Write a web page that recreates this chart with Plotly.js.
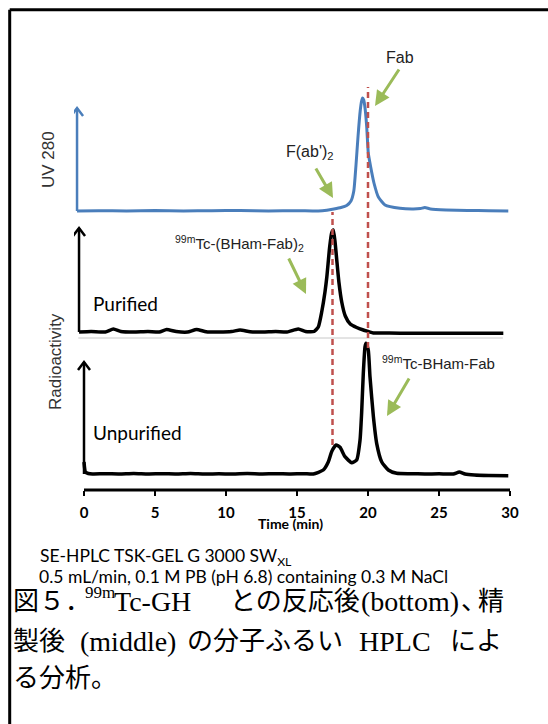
<!DOCTYPE html>
<html><head><meta charset="utf-8">
<script src="https://cdn.plot.ly/plotly-3.0.1.min.js"></script>
<style>html,body{margin:0;padding:0;background:#fff;}#chart{width:548px;height:724px;}</style>
</head><body><div id="chart"></div>
<script>
// ---- data (time in min, signal in arbitrary units) ----
const uvTime = [-0.49, 1, 3, 5, 7, 9, 11, 13, 15, 16.5, 17.1, 17.6, 18.1, 18.5, 18.8, 19.0, 19.15, 19.3, 19.45, 19.55, 19.62, 19.7, 19.8, 19.91, 20.02, 20.19, 20.42, 20.73, 21.2, 22.25, 23.2, 23.7, 24.0, 24.4, 25.5, 27, 28.5, 29.88];
const uvSignal = [0, 0.3, 0, 0.4, 0, 0.3, 0.5, 0, 0.3, 0, 0.8, 2.0, 3.5, 5.5, 10, 20, 45, 75, 100, 110, 113, 111, 102, 84, 58, 44, 28, 14, 6, 2.7, 2, 2.5, 3.5, 2, 1, 0.5, 0.3, 0];

const purTime = [-0.35, 0.5, 1.5, 2.07, 2.6, 3.5, 4.5, 5.3, 5.82, 6.5, 7.3, 7.93, 8.6, 9.5, 10.4, 10.99, 11.7, 12.6, 13.5, 14.3, 15.09, 15.6, 16.2, 16.5, 16.74, 16.97, 17.1, 17.3, 17.44, 17.56, 17.68, 17.8, 17.95, 18.15, 18.4, 18.75, 19.2, 19.67, 20.02, 20.38, 21.5, 23, 25, 27, 29.53];
const purSignal = [0, 0.5, 0, 3, 0.5, 0, 0.5, 0, 2.5, 0.5, 0, 2.5, 0.3, 0, 0.5, 2, 0.3, 0, 0.5, 0, 3, 0.5, 0.5, 5, 20, 40, 55, 85, 99, 102, 90, 72, 50, 30, 16, 8, 4.5, 2, 0.5, -1, -1, -1.3, -1.3, -1.3, -1.3];

const unpTime = [0, 0.1, 0.3, 0.6, 1.5, 2.5, 3.5, 4.5, 5.5, 6.5, 7.5, 8.5, 9.5, 10.5, 11.5, 12.5, 13.5, 14.5, 15.5, 16.15, 16.85, 17.21, 17.44, 17.75, 18.03, 18.38, 18.85, 19.2, 19.44, 19.55, 19.67, 19.79, 19.86, 20.02, 20.14, 20.38, 20.61, 20.96, 21.43, 22.02, 23, 24, 25, 26.01, 26.43, 26.83, 27.5, 28.5, 29.88];
const unpSignal = [12, 2, 0.5, 0, 0.3, 0, 0.5, 0, 0.3, 0, 0.5, 0, 0.2, 0, 0.4, 0, 0.3, 0, 0.3, 0, 4, 12.3, 22.3, 29, 26.7, 17.3, 11.3, 14, 34, 60.7, 100.7, 127.3, 130.7, 124, 97.3, 57.3, 30.7, 12.3, 4, 0.7, 0.3, 0, 0.2, 0, 2, 0, -1, -1.5, -1.7];

const xTicks = [0, 5, 10, 15, 20, 25, 30];
const xTickText = ['0', '5', '10', '15', '20', '25', '30'];
const fab2Time = 17.5;   // F(ab')2 retention
const fabTime = 20.0;    // Fab retention

// ---- geometry helpers (pixel -> paper) ----
const ML = 74, MR = 34, MT = 40, MB = 234;
const PW = 548 - ML - MR, PH = 724 - MT - MB;
const px = x => (x - ML) / PW;
const py = y => (724 - MB - y) / PH;

const sans = 'Liberation Sans, Arial, sans-serif';
const gill = 'Lato, sans-serif';
const jp = 'Liberation Serif, Noto Sans CJK JP, serif';
const green = '#9BBB59', red = '#C0504D', blue = '#4A7EBB';

const traces = [
  {x: unpTime, y: unpSignal, yaxis: 'y', mode: 'lines', line: {color: '#000', width: 3.5, shape: 'spline', smoothing: 0.5}, hoverinfo: 'skip'},
  {x: purTime, y: purSignal, yaxis: 'y2', mode: 'lines', line: {color: '#000', width: 3.5, shape: 'spline', smoothing: 0.5}, hoverinfo: 'skip'},
  {x: uvTime, y: uvSignal, yaxis: 'y3', mode: 'lines', line: {color: blue, width: 3, shape: 'spline', smoothing: 0.5}, hoverinfo: 'skip'}
];

function vArrow(xv, yref, top, color) {
  return [
    {type: 'line', xref: 'x', yref: yref, x0: xv, x1: xv, y0: 0, y1: top, line: {color: color, width: 2.5}},
    {type: 'path', xref: 'x', yref: yref, xsizemode: 'pixel', ysizemode: 'pixel', xanchor: xv, yanchor: top,
     path: 'M-6,-8 L0,0 L6,-8', line: {color: color, width: 2.5}}
  ];
}

const shapes = [
  // frame
  {type: 'line', xref: 'paper', yref: 'paper', x0: px(9.7), x1: px(548), y0: py(9.7), y1: py(9.7), line: {color: '#000', width: 3}},
  {type: 'line', xref: 'paper', yref: 'paper', x0: px(9.7), x1: px(9.7), y0: py(9.7), y1: py(724), line: {color: '#000', width: 3}},
  // separator under purified trace
  {type: 'line', xref: 'x', yref: 'paper', x0: -0.4, x1: 29.5, y0: py(338), y1: py(338), line: {color: '#c8c8c8', width: 1}, layer: 'below'},
  // x axis line
  {type: 'line', xref: 'x', yref: 'paper', x0: 0, x1: 30, y0: 0, y1: 0, line: {color: '#000', width: 3}},
  ...vArrow(-0.49, 'y3', 103, blue),
  ...vArrow(-0.35, 'y2', 104, '#000'),
  ...vArrow(0, 'y', 112, '#000'),
  // retention markers
  {type: 'line', xref: 'x', yref: 'paper', x0: fab2Time, x1: fab2Time, y0: py(445), y1: py(212), line: {color: red, width: 2.5, dash: '6px,4px'}, layer: 'above'},
  {type: 'line', xref: 'x', yref: 'paper', x0: fabTime, x1: fabTime, y0: py(348), y1: py(87), line: {color: red, width: 2.5, dash: '6px,4px'}, layer: 'above'}
];

function txt(text, x, y, font, xanchor, extra) {
  return Object.assign({text: text, xref: 'paper', yref: 'paper', x: px(x), y: py(y), showarrow: false,
    xanchor: xanchor || 'center', yanchor: 'middle', font: font}, extra || {});
}
function garrow(tx, ty, hx, hy) {
  return {text: '', xref: 'paper', yref: 'paper', x: px(hx), y: py(hy), ax: tx - hx, ay: ty - hy,
    showarrow: true, arrowhead: 2, arrowsize: 1, arrowwidth: 3, arrowcolor: green};
}

const fLbl = {family: sans, size: 16, color: '#222'};
const fJP = {family: jp, size: 26, color: '#000'};
const fLat = {family: jp, size: 28, color: '#000'};
const annotations = [
  txt('UV 280', 48, 160, {family: sans, size: 17, color: '#333'}, 'center', {textangle: -90}),
  txt('Radioactivity', 55, 362, {family: sans, size: 17, color: '#333'}, 'center', {textangle: -90}),
  txt('Fab', 400, 57, fLbl),
  garrow(400, 68, 375, 106),
  txt("F(ab')<sub>2</sub>", 310, 152, fLbl),
  garrow(315, 167, 333, 198),
  txt('<sup>99m</sup>Tc-(BHam-Fab)<sub>2</sub>', 173, 243, {family: sans, size: 15, color: '#222'}, 'left'),
  garrow(288, 257, 306, 294),
  txt('<sup>99m</sup>Tc-BHam-Fab', 380, 362, {family: sans, size: 15, color: '#222'}, 'left'),
  garrow(410, 377, 387, 416),
  txt('Purified', 91, 303, {family: gill, size: 19, color: '#000'}, 'left'),
  txt('Unpurified', 91, 432, {family: gill, size: 19, color: '#000'}, 'left'),
  txt('Time (min)', 290, 523, {family: gill, size: 14, color: '#000', weight: 'bold'}),
  txt('SE-HPLC TSK-GEL G 3000 SW<sub>XL</sub>', 38, 557, {family: gill, size: 17.5, color: '#000'}, 'left'),
  txt('0.5 mL/min, 0.1 M PB (pH 6.8) containing 0.3 M NaCl', 37, 576, {family: gill, size: 17.5, color: '#000'}, 'left'),
  // Japanese caption (justified lines placed in chunks)
  txt('図５．', 11, 601, fJP, 'left'),
  txt('99m', 83, 592, {family: jp, size: 17, color: '#000'}, 'left'),
  txt('Tc-GH', 112, 601, fLat, 'left'),
  txt('との反応後', 228, 601, fJP, 'left'),
  txt('(bottom)', 410, 601, fLat, 'center'),
  txt('、', 459, 601, fJP, 'left'),
  txt('精', 476, 601, fJP, 'left'),
  txt('製後', 11, 641, fJP, 'left'),
  txt('(middle)', 128, 641, fLat, 'center'),
  txt('の分子ふるい', 185, 641, fJP, 'left'),
  txt('HPLC', 395, 641, fLat, 'center'),
  txt('によ', 448, 641, fJP, 'left'),
  txt('る分析。', 11, 678, fJP, 'left')
];

const layout = {
  width: 548, height: 724,
  margin: {l: ML, r: MR, t: MT, b: MB, pad: 0},
  paper_bgcolor: '#fff', plot_bgcolor: '#fff',
  showlegend: false,
  xaxis: {range: [-0.704, 30.282], tickvals: xTicks, ticktext: xTickText, ticks: 'outside', ticklen: 5, tickwidth: 2,
    tickcolor: '#000', showline: false, showgrid: false, zeroline: false, ticklabelstandoff: 4,
    tickfont: {family: gill, size: 15, color: '#000', weight: 'bold'}},
  yaxis: {domain: [0, 150 / 450], range: [-16, 134], visible: false},
  yaxis2: {domain: [152 / 450, 265 / 450], range: [-6, 107], visible: false},
  yaxis3: {domain: [270 / 450, 400 / 450], range: [-9, 121], visible: false},
  shapes: shapes,
  annotations: annotations
};

Plotly.newPlot('chart', traces, layout, {displayModeBar: false, staticPlot: true});
</script>
</body></html>
